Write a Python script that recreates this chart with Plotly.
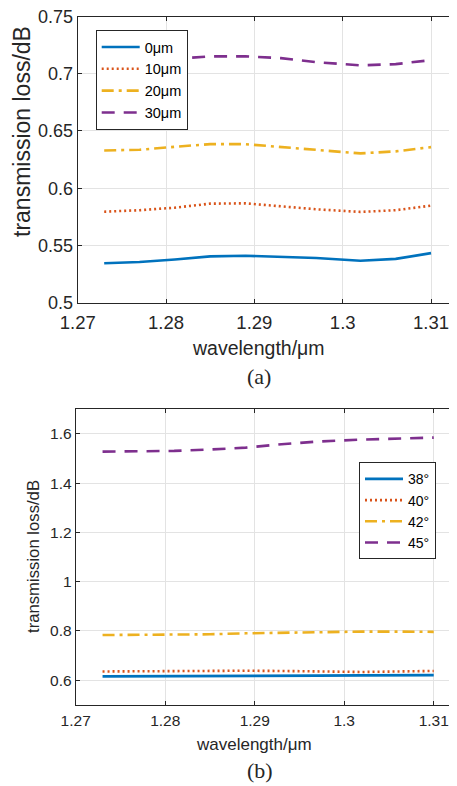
import plotly.graph_objects as go

# ---------------- data ----------------
wavelength = [1.273, 1.277, 1.281, 1.285, 1.289, 1.293, 1.297, 1.302, 1.306, 1.310]

# (a) transmission loss vs wavelength for different offsets
loss_0um = [0.5345, 0.5355, 0.5378, 0.5405, 0.5410, 0.5402, 0.5390, 0.5366, 0.5383, 0.5433]
loss_10um = [0.5795, 0.5808, 0.5830, 0.5865, 0.5868, 0.5842, 0.5816, 0.5793, 0.5808, 0.5848]
loss_20um = [0.6330, 0.6336, 0.6362, 0.6385, 0.6385, 0.6359, 0.6330, 0.6304, 0.6322, 0.6359]
loss_30um = [0.7115, 0.7120, 0.7130, 0.7152, 0.7152, 0.7136, 0.7101, 0.7073, 0.7084, 0.7119]
names_a = ["0\u03bcm", "10\u03bcm", "20\u03bcm", "30\u03bcm"]

# (b) transmission loss vs wavelength for different angles
loss_38 = [0.615, 0.615, 0.616, 0.617, 0.617, 0.618, 0.618, 0.619, 0.619, 0.620]
loss_40 = [0.635, 0.636, 0.637, 0.638, 0.638, 0.637, 0.635, 0.633, 0.635, 0.637]
loss_42 = [0.783, 0.783, 0.784, 0.786, 0.790, 0.793, 0.796, 0.797, 0.797, 0.796]
loss_45 = [1.528, 1.530, 1.531, 1.5365, 1.5445, 1.558, 1.569, 1.577, 1.5825, 1.585]
names_b = ["38\u00b0", "40\u00b0", "42\u00b0", "45\u00b0"]

xticks = [1.27, 1.28, 1.29, 1.30, 1.31]
xticktext = ["1.27", "1.28", "1.29", "1.3", "1.31"]
yticks_a = [0.5, 0.55, 0.6, 0.65, 0.7, 0.75]
yticktext_a = ["0.5", "0.55", "0.6", "0.65", "0.7", "0.75"]
yticks_b = [0.6, 0.8, 1.0, 1.2, 1.4, 1.6]
yticktext_b = ["0.6", "0.8", "1", "1.2", "1.4", "1.6"]

# ---------------- styles ----------------
OFF = 8                      # page body margin of the browser
W, H = 457 - OFF, 786 - OFF  # figure size so that it fills the window
colors = ["#0072BD", "#D95319", "#EDB120", "#7E2F8E"]
dashes = ["solid", "2px,3px", "12px,5px,3px,5px", "13px,9px"]
FONT = "Liberation Sans, Arial, sans-serif"
SERIF = "Liberation Serif, Times New Roman, serif"
AX = "#262626"
GRID = "#e3e3e3"

fig = go.Figure()

for ys, nm, c, d in zip([loss_0um, loss_10um, loss_20um, loss_30um], names_a, colors, dashes):
    fig.add_trace(go.Scatter(x=wavelength, y=ys, name=nm, mode="lines",
                             line=dict(color=c, width=2.6, dash=d),
                             xaxis="x", yaxis="y", legend="legend"))
for ys, nm, c, d in zip([loss_38, loss_40, loss_42, loss_45], names_b, colors, dashes):
    fig.add_trace(go.Scatter(x=wavelength, y=ys, name=nm, mode="lines",
                             line=dict(color=c, width=2.6, dash=d),
                             xaxis="x2", yaxis="y2", legend="legend2"))

def px_x(p):
    return (p - OFF) / W

def px_y(p):
    return 1 - (p - OFF) / H

common_x = dict(showgrid=True, gridcolor=GRID, gridwidth=1, zeroline=False,
                showline=True, linecolor=AX, linewidth=1, ticks="inside",
                ticklen=4, tickcolor=AX, mirror="ticks", automargin=False,
                ticklabeloverflow="allow",
                tickfont=dict(family=FONT, color=AX))
common_y = dict(showgrid=True, gridcolor=GRID, gridwidth=1, zeroline=False,
                showline=True, linecolor=AX, linewidth=1, ticks="inside",
                ticklen=4, tickcolor=AX, mirror=False, automargin=False,
                ticklabeloverflow="allow",
                tickfont=dict(family=FONT, color=AX))

fig.update_layout(
    width=W, height=H,
    margin=dict(l=0, r=0, t=0, b=0, autoexpand=False),
    paper_bgcolor="white", plot_bgcolor="white",
    showlegend=True,
    xaxis=dict(**common_x, domain=[px_x(77.7), 1.0], range=[1.27, 1.31294],
               tickvals=xticks, ticktext=xticktext, anchor="y",
               ticklabelstandoff=3),
    yaxis=dict(**common_y, domain=[px_y(302.7), px_y(16.5)], range=[0.5, 0.75],
               tickvals=yticks_a, ticktext=yticktext_a, anchor="x"),
    xaxis2=dict(**common_x, domain=[px_x(75.7), 1.0], range=[1.27, 1.3126],
                tickvals=xticks, ticktext=xticktext, anchor="y2",
                ticklabelstandoff=2),
    yaxis2=dict(**common_y, domain=[px_y(704.7), px_y(409.3)], range=[0.5, 1.7],
                tickvals=yticks_b, ticktext=yticktext_b, anchor="x2"),
    legend=dict(x=px_x(95.7), y=px_y(30), xanchor="left", yanchor="top",
                bgcolor="white", bordercolor=AX, borderwidth=1,
                font=dict(family=FONT, size=14.5, color="black"),
                tracegroupgap=0, itemwidth=38),
    legend2=dict(x=px_x(359), y=px_y(462.3), xanchor="left", yanchor="top",
                 bgcolor="white", bordercolor=AX, borderwidth=1,
                 font=dict(family=FONT, size=14, color="black"),
                 tracegroupgap=0, itemwidth=38),
)
fig.update_xaxes(tickfont_size=18.5, selector=dict(anchor="y"))
fig.update_yaxes(tickfont_size=18, selector=dict(anchor="x"))
fig.update_xaxes(tickfont_size=15.5, selector=dict(anchor="y2"))
fig.update_yaxes(tickfont_size=15.5, selector=dict(anchor="x2"))

def ann(text, x, y, size, angle=0, family=FONT):
    fig.add_annotation(text=text, x=px_x(x), y=px_y(y), xref="paper", yref="paper",
                       showarrow=False, textangle=angle, xanchor="center", yanchor="middle",
                       font=dict(family=family, size=size, color=AX))

ann("wavelength/\u03bcm", 258, 348, 19.5)
ann("transmission loss/dB", 22, 132, 23, angle=-90)
ann("(a)", 259, 376, 22, family=SERIF)
ann("wavelength/\u03bcm", 254, 744, 17)
ann("transmission loss/dB", 33.3, 556.7, 16.7, angle=-90)
ann("(b)", 260, 770, 22, family=SERIF)

fig.write_html("out.html")
